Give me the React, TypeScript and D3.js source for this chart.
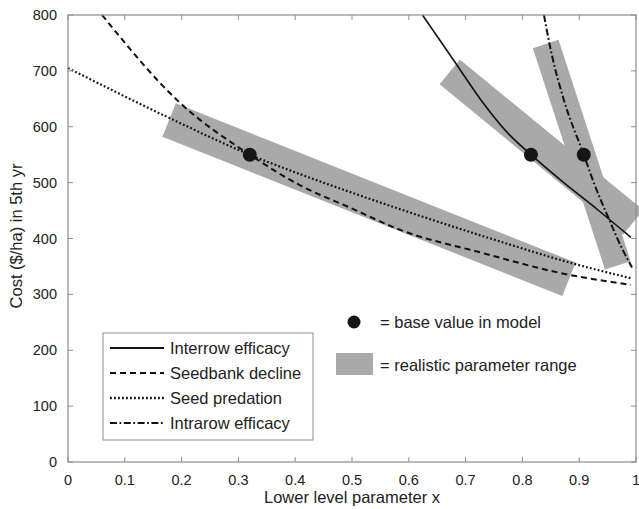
import React from 'react';
import * as d3 from 'd3';

type Pt = [number, number];

const xTicks = [0, 0.1, 0.2, 0.3, 0.4, 0.5, 0.6, 0.7, 0.8, 0.9, 1];
const yTicks = [0, 100, 200, 300, 400, 500, 600, 700, 800];
const xTickLabels = ['0', '0.1', '0.2', '0.3', '0.4', '0.5', '0.6', '0.7', '0.8', '0.9', '1'];

// curves
const interrow: Pt[] = [
  [0.624, 800], [0.679, 719], [0.727, 648], [0.774, 589], [0.815, 550],
  [0.868, 504], [0.933, 451], [0.991, 402],
];
const seedbank: Pt[] = [
  [0.06, 800], [0.198, 642], [0.32, 550], [0.409, 495], [0.497, 455],
  [0.586, 415], [0.73, 374], [0.868, 338], [0.991, 317],
];
const predation: Pt[] = [
  [0, 705], [0.18, 615], [0.32, 550], [0.409, 515], [0.497, 483],
  [0.586, 452], [0.75, 398], [0.89, 355], [0.991, 329],
];
const intrarow: Pt[] = [
  [0.838, 800], [0.85, 737], [0.873, 648], [0.908, 550], [0.926, 499],
  [0.951, 438], [0.974, 385], [0.993, 348],
];

// base values
const baseX = [0.32, 0.815, 0.908];
const baseY = [550, 550, 550];

// realistic parameter ranges: centre line ends [x1, y1, x2, y2]
const bands: [number, number, number, number][] = [
  [0.178, 612, 0.882, 327],
  [0.672, 698, 0.995, 429],
  [0.841, 748, 0.968, 352],
];
const bandWidths = [36, 32, 27];

const seriesNames = ['Interrow efficacy', 'Seedbank decline', 'Seed predation', 'Intrarow efficacy'];

const W = 639;
const H = 509;
const m = { left: 68, right: 3, top: 15, bottom: 47 };
const FONT = 'Liberation Sans, Arial, sans-serif';
const dashes = ['none', '6,4', '1.8,2.2', '7,2.5,1.8,2.5'];
const widths = [1.6, 2, 2.2, 2];

const App: React.FC = () => {
  const x = d3.scaleLinear().domain([0, 1]).range([m.left, W - m.right]);
  const y = d3.scaleLinear().domain([0, 800]).range([H - m.bottom, m.top]);
  const line = d3
    .line<Pt>()
    .x((d) => x(d[0]))
    .y((d) => y(d[1]))
    .curve(d3.curveMonotoneX);
  const curves = [interrow, seedbank, predation, intrarow];

  const bandPoly = (b: [number, number, number, number], w: number) => {
    const x1 = x(b[0]), y1 = y(b[1]), x2 = x(b[2]), y2 = y(b[3]);
    const len = Math.hypot(x2 - x1, y2 - y1);
    const nx = (-(y2 - y1) / len) * (w / 2);
    const ny = ((x2 - x1) / len) * (w / 2);
    return [
      [x1 + nx, y1 + ny], [x2 + nx, y2 + ny], [x2 - nx, y2 - ny], [x1 - nx, y1 - ny],
    ].map((p) => p.join(',')).join(' ');
  };

  const x0 = m.left, x1 = W - m.right, y0 = H - m.bottom, y1 = m.top;
  const axisColor = '#8c8c8c';
  const lg = { x: 103, y: 333, w: 210, h: 107 };
  const rowY = (i: number) => 348 + i * 25;

  return (
    <svg width={W} height={H} style={{ position: 'absolute', left: 0, top: 0, background: '#fff' }} fontFamily={FONT}>
      {/* bands */}
      {bands.map((b, i) => (
        <polygon key={i} points={bandPoly(b, bandWidths[i])} fill="#a9a9a9" />
      ))}
      {/* curves */}
      {curves.map((c, i) => (
        <path key={i} d={line(c) ?? ''} fill="none" stroke="#111" strokeWidth={widths[i]}
          strokeDasharray={dashes[i]} />
      ))}
      {/* base points */}
      {baseX.map((bx, i) => (
        <circle key={i} cx={x(bx)} cy={y(baseY[i])} r={7} fill="#151515" />
      ))}
      {/* axes box */}
      <rect x={x0} y={y1} width={x1 - x0} height={y0 - y1} fill="none" stroke={axisColor} strokeWidth={1.2} />
      {xTicks.map((t, i) => (
        <g key={'x' + i}>
          <line x1={x(t)} x2={x(t)} y1={y0} y2={y0 - 5} stroke={axisColor} />
          <line x1={x(t)} x2={x(t)} y1={y1} y2={y1 + 5} stroke={axisColor} />
          <text x={x(t)} y={y0 + 23} textAnchor="middle" fontSize={14.5} fill="#222">{xTickLabels[i]}</text>
        </g>
      ))}
      {yTicks.map((t, i) => (
        <g key={'y' + i}>
          <line x1={x0} x2={x0 + 5} y1={y(t)} y2={y(t)} stroke={axisColor} />
          <line x1={x1} x2={x1 - 5} y1={y(t)} y2={y(t)} stroke={axisColor} />
          <text x={x0 - 11} y={y(t) + 5} textAnchor="end" fontSize={14.5} fill="#222">{t}</text>
        </g>
      ))}
      <text x={352} y={503} textAnchor="middle" fontSize={16.5} fill="#222">Lower level parameter x</text>
      <text transform={`translate(22,236) rotate(-90)`} textAnchor="middle" fontSize={16.5} fill="#222">
        Cost ($/ha) in 5th yr
      </text>
      {/* legend */}
      <rect x={lg.x} y={lg.y} width={lg.w} height={lg.h} fill="#fff" stroke={axisColor} strokeWidth={1} />
      {seriesNames.map((n, i) => (
        <g key={n}>
          <line x1={110} x2={164} y1={rowY(i)} y2={rowY(i)} stroke="#111" strokeWidth={widths[i] + 0.2}
            strokeDasharray={dashes[i]} />
          <text x={170} y={rowY(i) + 6} fontSize={16.5} fill="#222">{n}</text>
        </g>
      ))}
      {/* annotation */}
      <circle cx={354} cy={322} r={6.5} fill="#151515" />
      <text x={380} y={328} fontSize={16.5} fill="#222">= base value in model</text>
      <rect x={336} y={353} width={37} height={22} fill="#a9a9a9" />
      <text x={380} y={371} fontSize={16.5} fill="#222">= realistic parameter range</text>
    </svg>
  );
};

export default App;
